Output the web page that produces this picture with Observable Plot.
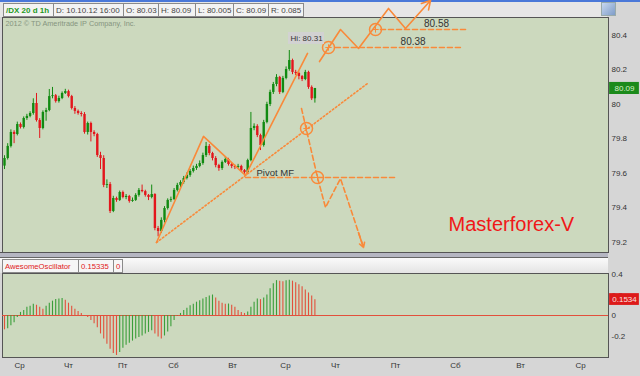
<!DOCTYPE html>
<html><head><meta charset="utf-8">
<script src="https://cdn.jsdelivr.net/npm/d3@7"></script>
<script src="https://cdn.jsdelivr.net/npm/@observablehq/plot@0.6"></script>
<style>
body{margin:0;background:#d6d6d6;}
#wrap{position:relative;width:640px;height:376px;background:#d6d6d6;overflow:hidden;font-family:"Liberation Sans",Arial,sans-serif;}
.abs{position:absolute;}
#topline{left:0;top:0;width:640px;height:2px;background:#4a78d8;}
#hdr{left:0;top:2px;width:607px;height:15px;background:#e6e6e6;}
.cell{position:absolute;top:1px;height:14px;line-height:13px;font-size:8px;color:#444;background:#f3f3f3;border:1px solid #8a8a8a;box-sizing:border-box;padding-left:2px;white-space:nowrap;overflow:hidden;}
#icon{left:601px;top:2px;width:13px;height:12px;background:linear-gradient(135deg,#c8d8f0,#7e9cc8);border:1px solid #9aa;}
#sep{left:0;top:252px;width:608px;height:6px;background:#b5b6c2;border-top:1px solid #555;border-bottom:1px solid #666;box-sizing:border-box;}
#aohdr{left:0;top:258px;width:608px;height:15px;background:linear-gradient(#fafafa,#e4e4e4);}
.acell{position:absolute;top:1px;height:14px;line-height:13px;font-size:7.7px;color:#e02020;background:#f6f6f6;border:1px solid #8a8a8a;box-sizing:border-box;padding-left:2px;white-space:nowrap;}
.plotbox{left:0;}
</style>
</head><body>
<div id="wrap">
  <div id="topline" class="abs"></div>
  <div id="hdr" class="abs"></div>
  <div id="icon" class="abs"></div>
  <div id="sep" class="abs"></div>
  <div id="aohdr" class="abs"></div>
  <div id="main" class="abs plotbox" style="top:0"></div>
  <div id="osc" class="abs plotbox" style="top:258px"></div>
</div>
<script>
// ---------------- DATA ----------------
const headerTexts = ["/DX 20 d 1h","D: 10.10.12 16:00","O: 80.03","H: 80.09","L: 80.005","C: 80.09","R: 0.085"];
const aoHeaderTexts = ["AwesomeOscillator","0.15335","0"];
const copyright = "2012 \u00a9 TD Ameritrade IP Company, Inc.";
const firstOpen = 79.640;
const closes = [79.684,79.754,79.835,79.823,79.881,79.864,79.916,79.928,79.945,80.003,
 79.904,79.858,79.951,79.962,80.043,80.048,80.014,80.032,80.061,80.072,
 80.043,79.974,79.957,79.945,79.939,79.835,79.887,79.835,79.823,79.701,
 79.684,79.528,79.533,79.377,79.452,79.441,79.487,79.458,79.464,79.435,
 79.441,79.470,79.499,79.492,79.470,79.458,79.475,79.278,79.261,79.325,
 79.394,79.441,79.446,79.499,79.528,79.545,79.568,79.586,79.609,79.626,
 79.638,79.655,79.701,79.754,79.713,79.684,79.643,79.626,79.661,79.678,
 79.649,79.638,79.632,79.638,79.614,79.603,79.672,79.858,79.870,79.817,
 79.759,79.893,79.997,80.067,80.113,80.154,80.067,80.148,80.200,80.252,
 80.183,80.177,80.159,80.142,80.183,80.096,80.030,80.090];
const highs = [79.700,79.770,79.850,79.845,79.895,79.890,79.925,79.940,79.955,80.030,
 80.061,79.915,79.960,79.975,80.084,80.096,80.055,80.045,80.070,80.085,
 80.080,80.050,79.985,79.965,79.955,79.950,79.895,79.895,79.845,79.830,
 79.720,79.700,79.560,79.545,79.465,79.460,79.495,79.495,79.475,79.470,
 79.455,79.480,79.510,79.530,79.500,79.475,79.530,79.480,79.290,79.340,
 79.405,79.450,79.460,79.510,79.540,79.555,79.580,79.600,79.620,79.640,
 79.650,79.670,79.715,79.777,79.765,79.720,79.695,79.650,79.670,79.690,
 79.685,79.655,79.645,79.650,79.645,79.620,79.680,79.951,79.885,79.880,
 79.825,79.905,80.010,80.080,80.125,80.170,80.160,80.160,80.215,80.310,
 80.260,80.195,80.185,80.165,80.195,80.190,80.105,80.090];
const lows = [79.620,79.675,79.745,79.770,79.815,79.855,79.855,79.905,79.920,79.935,
 79.895,79.800,79.850,79.900,79.955,80.030,80.005,80.005,80.025,80.055,
 80.035,79.965,79.940,79.935,79.925,79.825,79.820,79.780,79.810,79.690,
 79.620,79.515,79.510,79.365,79.370,79.430,79.435,79.450,79.445,79.425,
 79.430,79.435,79.460,79.485,79.460,79.440,79.450,79.265,79.230,79.250,
 79.310,79.385,79.430,79.440,79.490,79.515,79.535,79.560,79.575,79.600,
 79.615,79.630,79.645,79.690,79.700,79.670,79.630,79.610,79.615,79.655,
 79.640,79.625,79.620,79.625,79.605,79.585,79.595,79.665,79.845,79.805,
 79.730,79.750,79.885,79.985,80.055,80.100,80.055,80.060,80.140,80.190,
 80.170,80.165,80.140,80.130,80.135,80.085,80.020,80.005];
const ao = [-0.14,-0.13,-0.10,-0.07,-0.02,0.03,0.05,0.08,0.09,0.11,
 0.10,0.08,0.06,0.09,0.12,0.14,0.155,0.16,0.165,0.15,
 0.12,0.09,0.06,0.04,0.02,-0.005,-0.02,-0.05,-0.08,-0.12,
 -0.18,-0.23,-0.28,-0.33,-0.37,-0.39,-0.36,-0.32,-0.29,-0.27,
 -0.25,-0.23,-0.215,-0.20,-0.18,-0.165,-0.15,-0.18,-0.21,-0.23,
 -0.20,-0.16,-0.11,-0.05,-0.005,0.02,0.05,0.07,0.095,0.11,
 0.13,0.145,0.16,0.175,0.19,0.20,0.17,0.14,0.12,0.11,
 0.112,0.10,0.08,0.05,0.03,0.02,0.035,0.08,0.13,0.16,
 0.155,0.17,0.20,0.26,0.31,0.34,0.335,0.33,0.34,0.345,
 0.335,0.32,0.30,0.28,0.25,0.22,0.19,0.15335];
const aoLast = 0.15335;
const aoLastLabel = "0.1534";
const priceTicks = [79.2,79.4,79.6,79.8,80,80.2,80.4];
const aoTicks = [-0.2,0,0.2,0.4];
const dayTicks = [4.7,20,36.9,52.8,71.3,87.8,103.4,122.2,140.9,161.3,180];
const dayLabels = ["Ср","Чт","Пт","Сб","Вт","Ср","Чт","Пт","Сб","Вт","Ср"];
// annotation geometry (bar index, price)
const trendA = [{i:47.5,p:79.197},{i:62.19,p:79.812},{i:75.31,p:79.586},{i:94.69,p:80.293}];
const trendB = [{i:47.5,p:79.197},{i:113.44,p:80.119}];
const pivotLine = [{i:75.31,p:79.574},{i:122.5,p:79.574}];
const downPath = [{i:92.81,p:79.974},{i:97.81,p:79.574},{i:100.31,p:79.400},{i:105,p:79.568},{i:112.19,p:79.168}];
const downArrow = {i1:110.6,p1:79.255,i2:112.19,p2:79.168};
const upPath = [{i:98.44,p:80.246},{i:105,p:80.432},{i:110.63,p:80.322},{i:120,p:80.554},{i:125.31,p:80.438}];
const upArrow = {i1:125.31,p1:80.438,i2:133.13,p2:80.600};
const level1 = [{i:103.4,p:80.3275},{i:142.5,p:80.3275}];
const level2 = [{i:117.5,p:80.432},{i:145,p:80.432}];
const levelLabels = [{i:127.7,p:80.3275,t:"80.38"},{i:135,p:80.432,t:"80.58"}];
const circles = [{i:94.38,p:79.858},{i:97.81,p:79.574},{i:101.25,p:80.3275},{i:115.94,p:80.432}];
const hiLabel = {i:89.4,p:80.38,t:"Hi: 80.31"};
const pivotLabel = {i:78.75,p:79.574,t:"Pivot MF"};
const brand = {i:158.4,p:79.301,t:"Masterforex-V"};

// ---------------- LAYOUT ----------------
const hdrEdges = [3,53,123,158,195,233,268,303];
const hdr = document.getElementById("hdr");
headerTexts.forEach((t,k)=>{
  const d = document.createElement("div"); d.className="cell";
  d.style.left = hdrEdges[k]+"px"; d.style.width=(hdrEdges[k+1]-hdrEdges[k]+1)+"px";
  d.textContent = t;
  if(k===0){d.style.color="#1e9a1e";d.style.fontWeight="bold";}
  hdr.appendChild(d);
});
const aoEdges = [2,78,113,122];
const aoh = document.getElementById("aohdr");
aoHeaderTexts.forEach((t,k)=>{
  const d = document.createElement("div"); d.className="acell";
  d.style.left = aoEdges[k]+"px"; d.style.width=(aoEdges[k+1]-aoEdges[k]+1)+"px";
  d.textContent = t; aoh.appendChild(d);
});

const BG = "#ccd9be", OR = "#f98a3a", GREEN = "#118a11", RED = "#e3161c";
const AOG = "#3a9e3a", AOR = "#e2503c";
const FONT = "background:transparent;overflow:visible;display:block;font-family:'Liberation Sans',Arial,sans-serif;font-size:8px;";
const XD = [-0.625,188.75];

const candles = closes.map((c,i)=>({i, o: i===0 ? firstOpen : closes[i-1], c, h: highs[i], l: lows[i]}));
const col = d => d.c >= d.o ? GREEN : RED;
const last = candles[candles.length-1];
const fmtP = d => String(Math.round(d*10)/10);

const main = Plot.plot({
  width:640, height:253, marginTop:17, marginBottom:1, marginLeft:2, marginRight:32,
  style: FONT,
  x:{domain:XD, axis:null},
  y:{domain:[79.139,80.5014], axis:null},
  marks:[
    Plot.frame({fill:BG, stroke:"#555"}),
    Plot.text([copyright],{frameAnchor:"top-left", dx:3, dy:3, text:d=>d, fontSize:7.3, fill:"#86957f", textAnchor:"start", lineAnchor:"top"}),
    Plot.axisY({anchor:"right", ticks:priceTicks, tickSize:0, tickPadding:3, tickFormat:fmtP, fontSize:8, fill:"#333", label:null}),
    Plot.ruleX(candles,{x:"i", y1:"l", y2:"h", stroke:col, strokeWidth:1}),
    Plot.ruleX(candles,{x:"i", y1:"o", y2:"c", stroke:col, strokeWidth:2.4}),
    Plot.line(trendB,{x:"i", y:"p", stroke:OR, strokeWidth:1.6, strokeDasharray:"1.5,2.3"}),
    Plot.line(trendA,{x:"i", y:"p", stroke:OR, strokeWidth:1.6}),
    Plot.line(pivotLine,{x:"i", y:"p", stroke:OR, strokeWidth:1.6, strokeDasharray:"5,3"}),
    Plot.line(downPath,{x:"i", y:"p", stroke:OR, strokeWidth:1.6, strokeDasharray:"5,3"}),
    Plot.arrow([downArrow],{x1:"i1", y1:"p1", x2:"i2", y2:"p2", stroke:OR, strokeWidth:1.6, headLength:9}),
    Plot.line(upPath,{x:"i", y:"p", stroke:OR, strokeWidth:1.6}),
    Plot.arrow([upArrow],{x1:"i1", y1:"p1", x2:"i2", y2:"p2", stroke:OR, strokeWidth:1.6, headLength:9}),
    Plot.line(level1,{x:"i", y:"p", stroke:OR, strokeWidth:1.6, strokeDasharray:"5,3"}),
    Plot.line(level2,{x:"i", y:"p", stroke:OR, strokeWidth:1.6, strokeDasharray:"5,3"}),
    Plot.dot(circles,{x:"i", y:"p", r:6, stroke:OR, strokeWidth:1.5, fill:"none"}),
    Plot.dot(circles,{x:"i", y:"p", r:2.2, symbol:"plus", stroke:OR, strokeWidth:1}),
    Plot.text(levelLabels,{x:"i", y:"p", text:"t", dy:-6, fontSize:10, fill:"#333"}),
    Plot.rect([hiLabel],{x1:88.75, x2:100, y1:80.345, y2:80.4145, fill:"#d2d2d2"}),
    Plot.text([hiLabel],{x:"i", y:"p", text:"t", textAnchor:"start", fontSize:8, fill:"#333"}),
    Plot.text([pivotLabel],{x:"i", y:"p", text:"t", textAnchor:"start", dy:-5, fontSize:9.5, fill:"#333"}),
    Plot.text([brand],{x:"i", y:"p", text:"t", fontSize:20, fill:"#f01818"}),
    Plot.rect([last],{x1:189.1, x2:198.4, y1:d=>d.c-0.035, y2:d=>d.c+0.035, fill:"#1b8a1b"}),
    Plot.text([last],{x:193.75, y:"c", text:d=>d.c.toFixed(2), fontSize:8, fill:"#d8f0c8"})
  ]
});
document.getElementById("main").appendChild(main);

const aoData = ao.map((v,i)=>({i, v, up: i===0 ? false : v >= ao[i-1]}));
const dayMap = new Map(dayTicks.map((d,k)=>[d,dayLabels[k]]));
const osc = Plot.plot({
  width:640, height:118, marginTop:15, marginBottom:19, marginLeft:2, marginRight:32,
  style: FONT,
  x:{domain:XD},
  y:{domain:[-0.4098,0.4098], axis:null},
  marks:[
    Plot.frame({fill:BG, stroke:"#555"}),
    Plot.ruleY([0],{stroke:"#e2503c", strokeWidth:1}),
    Plot.ruleX(aoData,{x:"i", y1:0, y2:"v", stroke:d=>d.up?AOG:AOR, strokeWidth:1.1}),
    Plot.axisY({anchor:"right", ticks:aoTicks, tickSize:0, tickPadding:3, tickFormat:d=>String(d), fontSize:8, fill:"#333", label:null}),
    Plot.rect([aoLast],{x1:189.1, x2:198.4, y1:d=>d-0.055, y2:d=>d+0.06, fill:"#dd1a1a"}),
    Plot.text([aoLast],{x:193.75, y:d=>d, text:()=>aoLastLabel, fontSize:8, fill:"#fbe0e0"}),
    Plot.axisX({anchor:"bottom", ticks:dayTicks, tickSize:0, tickPadding:5, tickFormat:d=>dayMap.get(d), fontSize:8, fill:"#333", label:null})
  ]
});
document.getElementById("osc").appendChild(osc);
</script>
</body></html>
